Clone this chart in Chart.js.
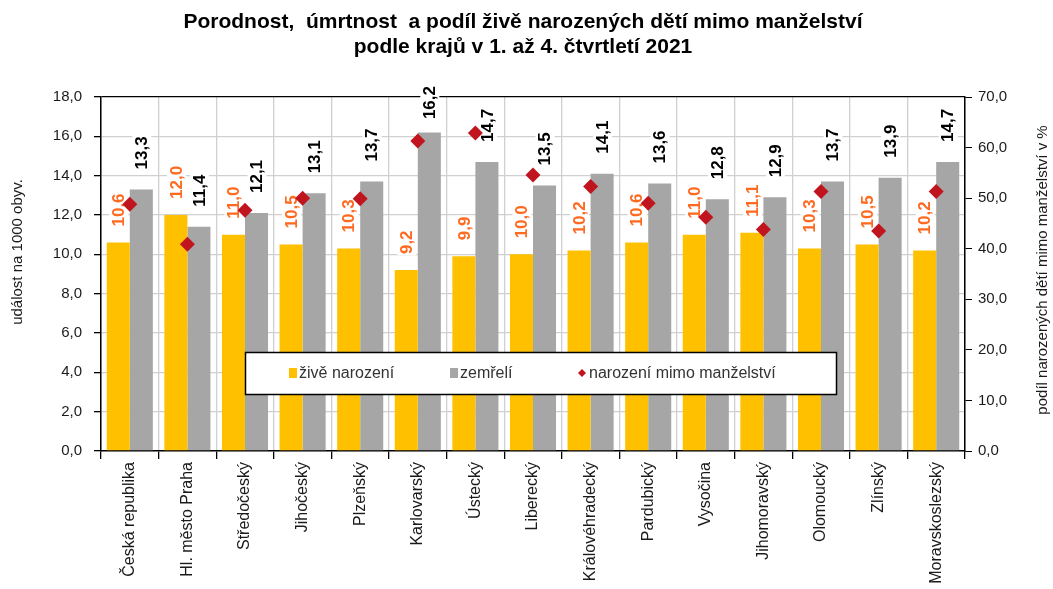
<!DOCTYPE html>
<html>
<head>
<meta charset="utf-8">
<script src="https://cdn.jsdelivr.net/npm/chart.js"></script>
<style>
  body { margin: 0; background: #fff; }
  #wrap { width: 1053px; height: 589px; position: relative; }
</style>
</head>
<body>
<div id="wrap"><canvas id="graf"></canvas></div>
<script>
// kraje
var kraje = ["Česká republika", "Hl. město Praha", "Středočeský", "Jihočeský", "Plzeňský",
  "Karlovarský", "Ústecký", "Liberecký", "Královéhradecký", "Pardubický", "Vysočina",
  "Jihomoravský", "Olomoucký", "Zlínský", "Moravskoslezský"];
// na 1000 obyv.
var zivenarozeni = [10.6, 12.0, 11.0, 10.5, 10.3, 9.2, 9.9, 10.0, 10.2, 10.6, 11.0, 11.1, 10.3, 10.5, 10.2];
var zemreli = [13.3, 11.4, 12.1, 13.1, 13.7, 16.2, 14.7, 13.5, 14.1, 13.6, 12.8, 12.9, 13.7, 13.9, 14.7];
// podil mimo manzelstvi v %
var mimoManzelstvi = [48.8, 40.9, 47.6, 50.0, 49.9, 61.3, 62.9, 54.6, 52.3, 49.0, 46.2, 43.8, 51.3, 43.5, 51.3];

var nadpis = ["Porodnost,  úmrtnost  a podíl živě narozených dětí mimo manželství",
  "podle krajů v 1. až 4. čtvrtletí 2021"];
var osaLevaNazev = "událost na 1000 obyv.";
var osaPravaNazev = "podíl narozených dětí mimo manželství v %";

var FONT = "'Liberation Sans', Arial, sans-serif";
Chart.defaults.font.family = FONT;
Chart.defaults.font.size = 15;
Chart.defaults.color = "#1a1a1a";

function carka(v) { return v.toFixed(1).replace(".", ","); }

// popisky hodnot nad sloupci (bile pozadi pres mrizku)
var popiskyPlugin = {
  id: "popisky",
  beforeDatasetsDraw: function(chart) {
    var ctx = chart.ctx;
    ctx.save();
    ctx.font = "bold 17px " + FONT;
    [0, 1].forEach(function(di) {
      var meta = chart.getDatasetMeta(di);
      var ds = chart.data.datasets[di];
      var mezera = di === 0 ? 16 : 20;
      meta.data.forEach(function(bar, i) {
        var txt = carka(ds.data[i]);
        var w = ctx.measureText(txt).width;
        var start = bar.y - mezera;
        if (start - w < 86) start = 86 + w;
        ctx.save();
        ctx.translate(bar.x, start);
        ctx.rotate(-Math.PI / 2);
        ctx.fillStyle = "#fff";
        ctx.fillRect(-1, -9, w + 2, 19);
        ctx.fillStyle = di === 0 ? "#FF6A21" : "#000";
        ctx.textAlign = "left";
        ctx.textBaseline = "middle";
        ctx.fillText(txt, 0, 1);
        ctx.restore();
      });
    });
    ctx.restore();
  },
  afterDraw: function(chart) {
    var ctx = chart.ctx;
    ctx.save();
    // nadpis
    ctx.fillStyle = "#000";
    ctx.textAlign = "center";
    ctx.textBaseline = "middle";
    ctx.font = "bold 21px " + FONT;
    ctx.fillText(nadpis[0], 523, 22);
    ctx.fillText(nadpis[1], 523, 47);
    // nazvy os
    ctx.font = "15px " + FONT;
    ctx.fillStyle = "#1a1a1a";
    ctx.save();
    ctx.translate(18, 252);
    ctx.rotate(-Math.PI / 2);
    ctx.fillText(osaLevaNazev, 0, 0);
    ctx.restore();
    ctx.save();
    ctx.translate(1043, 270);
    ctx.rotate(-Math.PI / 2);
    ctx.fillText(osaPravaNazev, 0, 0);
    ctx.restore();

    // legenda uvnitr grafu
    var lx = 245, ly = 352, lw = 591, lh = 42;
    ctx.fillStyle = "#fff";
    ctx.fillRect(lx, ly, lw, lh);
    ctx.strokeStyle = "#000";
    ctx.lineWidth = 1.5;
    ctx.strokeRect(lx + 0.5, ly + 0.5, lw, lh);
    var cy = ly + lh / 2;
    var polozky = [289, 450, 582];
    ctx.font = "16px " + FONT;
    ctx.textAlign = "left";
    chart.data.datasets.forEach(function(ds, i) {
      var x = polozky[i];
      ctx.fillStyle = ds.backgroundColor;
      if (i < 2) {
        ctx.fillRect(x, cy - 5, 8, 10);
      } else {
        ctx.beginPath();
        ctx.moveTo(x, cy - 4);
        ctx.lineTo(x + 4, cy);
        ctx.lineTo(x, cy + 4);
        ctx.lineTo(x - 4, cy);
        ctx.closePath();
        ctx.fill();
      }
      ctx.fillStyle = "#333";
      ctx.fillText(ds.label, x + (i < 2 ? 10 : 7), cy + 1);
    });
    ctx.restore();
  }
};

var graf = new Chart(document.getElementById("graf"), {
  type: "bar",
  data: {
    labels: kraje,
    datasets: [
      { label: "živě narození", data: zivenarozeni, backgroundColor: "#FFC000", yAxisID: "y",
        order: 2, categoryPercentage: 0.8, barPercentage: 1.0 },
      { label: "zemřelí", data: zemreli, backgroundColor: "#A6A6A6", yAxisID: "y",
        order: 2, categoryPercentage: 0.8, barPercentage: 1.0 },
      { type: "line", label: "narození mimo manželství", data: mimoManzelstvi, yAxisID: "y2",
        showLine: false, pointStyle: "rectRot", pointRadius: 7.5, pointHoverRadius: 7.5,
        backgroundColor: "#C0141E", borderColor: "#C0141E", borderWidth: 0, order: 0 }
    ]
  },
  options: {
    responsive: true,
    maintainAspectRatio: false,
    animation: false,
    layout: { padding: { top: 97, left: 0, right: 0, bottom: 0 } },
    plugins: {
      legend: { display: false },
      title: { display: false },
      tooltip: { enabled: false }
    },
    scales: {
      x: {
        offset: true,
        grid: { offset: true, color: "#d0d0d0", tickColor: "#000", tickLength: 8, lineWidth: 1.3 },
        border: { color: "#000", width: 1.5 },
        ticks: { autoSkip: false, minRotation: 90, maxRotation: 90, padding: 3,
          font: { size: 16 }, color: "#1a1a1a" },
        afterFit: function(s) { s.height = 138; }
      },
      y: {
        position: "left",
        min: 0, max: 18,
        ticks: { stepSize: 2, padding: 12, callback: function(v) { return carka(v); },
          font: { size: 15 }, color: "#1a1a1a" },
        grid: {
          tickLength: 7, tickColor: "#000", lineWidth: 1.3,
          color: function(c) { return c.tick && c.tick.value === 18 ? "#000" : "#d0d0d0"; }
        },
        border: { color: "#000", width: 1.5 },
        afterFit: function(s) { s.width = 101; }
      },
      y2: {
        position: "right",
        min: 0, max: 70,
        ticks: { stepSize: 10, padding: 6, callback: function(v) { return carka(v); },
          font: { size: 15 }, color: "#1a1a1a" },
        grid: { drawOnChartArea: false, tickLength: 7, tickColor: "#000" },
        border: { color: "#000", width: 1.5 },
        afterFit: function(s) { s.width = 88; }
      }
    }
  },
  plugins: [popiskyPlugin]
});
</script>
</body>
</html>
